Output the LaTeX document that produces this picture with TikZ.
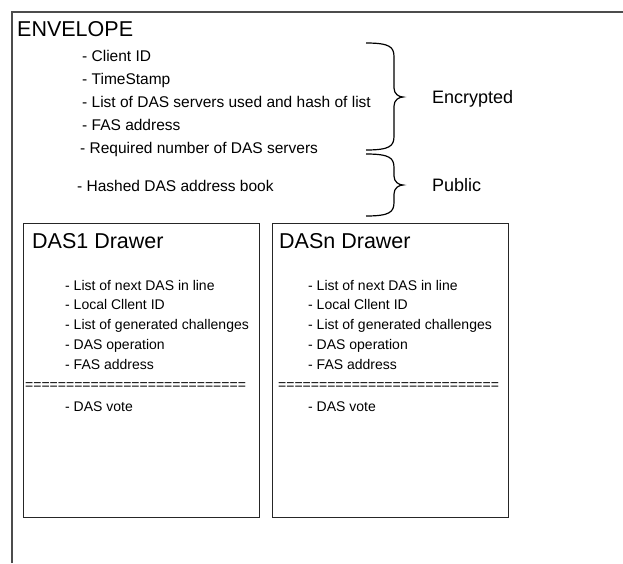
\documentclass[tikz,border=0pt]{standalone}
\usepackage{fontspec}
\setmainfont{Liberation Sans}
\usepackage{tikz}
\tikzset{
  title/.style={anchor=base west, inner sep=0pt, font=\fontsize{21.5}{24}\selectfont},
  tag/.style={anchor=base west, inner sep=0pt, font=\fontsize{18}{21}\selectfont},
  item/.style={anchor=base west, inner sep=0pt, font=\fontsize{15.5}{18}\selectfont},
  dritem/.style={anchor=base west, inner sep=0pt, font=\fontsize{14}{16}\selectfont},
  frame/.style={draw=black!70, line width=1.6pt},
  drawer/.style={draw=black!85, line width=1.3pt, anchor=north west,
    minimum width=236pt, minimum height=294pt, inner sep=0pt},
  curly/.style={draw=black, line width=1.2pt}
}

\begin{document}
\begin{tikzpicture}[x=1pt,y=-1pt]
  \useasboundingbox (0,0) rectangle (623,563);
  % envelope frame (open to the right and bottom)
  \draw[frame] (12,563) -- (12,12) -- (623,12);
  \node[title] (env) at (17,36) {ENVELOPE};

  % envelope contents
  \foreach \i/\x/\y/\lab in {1/82/61/{- Client ID},2/82/84/{- TimeStamp},
      3/82/107/{- List of DAS servers used and hash of list},
      4/82/130/{- FAS address},5/80/153/{- Required number of DAS servers},
      6/77/191/{- Hashed DAS address book}}
  {
    \node[item] (env\i) at (\x,\y) {\lab};
  }

  % braces
  \foreach \ya/\ym/\yb in {43/97/150,154/185/216}
  {
    \draw[curly] (366,\ya) .. controls (390,\ya) and (394,\ya+4) .. (394,\ya+14)
      -- (394,\ym-9) .. controls (394,\ym-3) and (399,\ym) .. (403,\ym)
      .. controls (399,\ym) and (394,\ym+3) .. (394,\ym+9)
      -- (394,\yb-14) .. controls (394,\yb-4) and (390,\yb) .. (366,\yb);
  }
  \node[tag] (enc) at (432,103.5) {Encrypted};
  \node[tag] (pub) at (432,191.5) {Public};

  % drawers
  \foreach \k/\bx/\tx/\ix/\ex in {1/23/32/65/25,n/272/279/308/278}
  {
    \node[drawer] (das\k) at (\bx,223) {};
    \node[title] (das\k-title) at (\tx,248) {DAS\k\ Drawer};
    \foreach \i/\y/\lab in {1/290/{- List of next DAS in line},2/309.8/{- Local Cllent ID},
        3/329.6/{- List of generated challenges},4/349.4/{- DAS operation},
        5/369.2/{- FAS address}}
    {
      \node[dritem] (das\k-\i) at (\ix,\y) {\lab};
    }
    \node[dritem] (das\k-sep) at (\ex,389) {===========================};
    \node[dritem] (das\k-vote) at (\ix,411) {- DAS vote};
  }
\end{tikzpicture}
\end{document}
